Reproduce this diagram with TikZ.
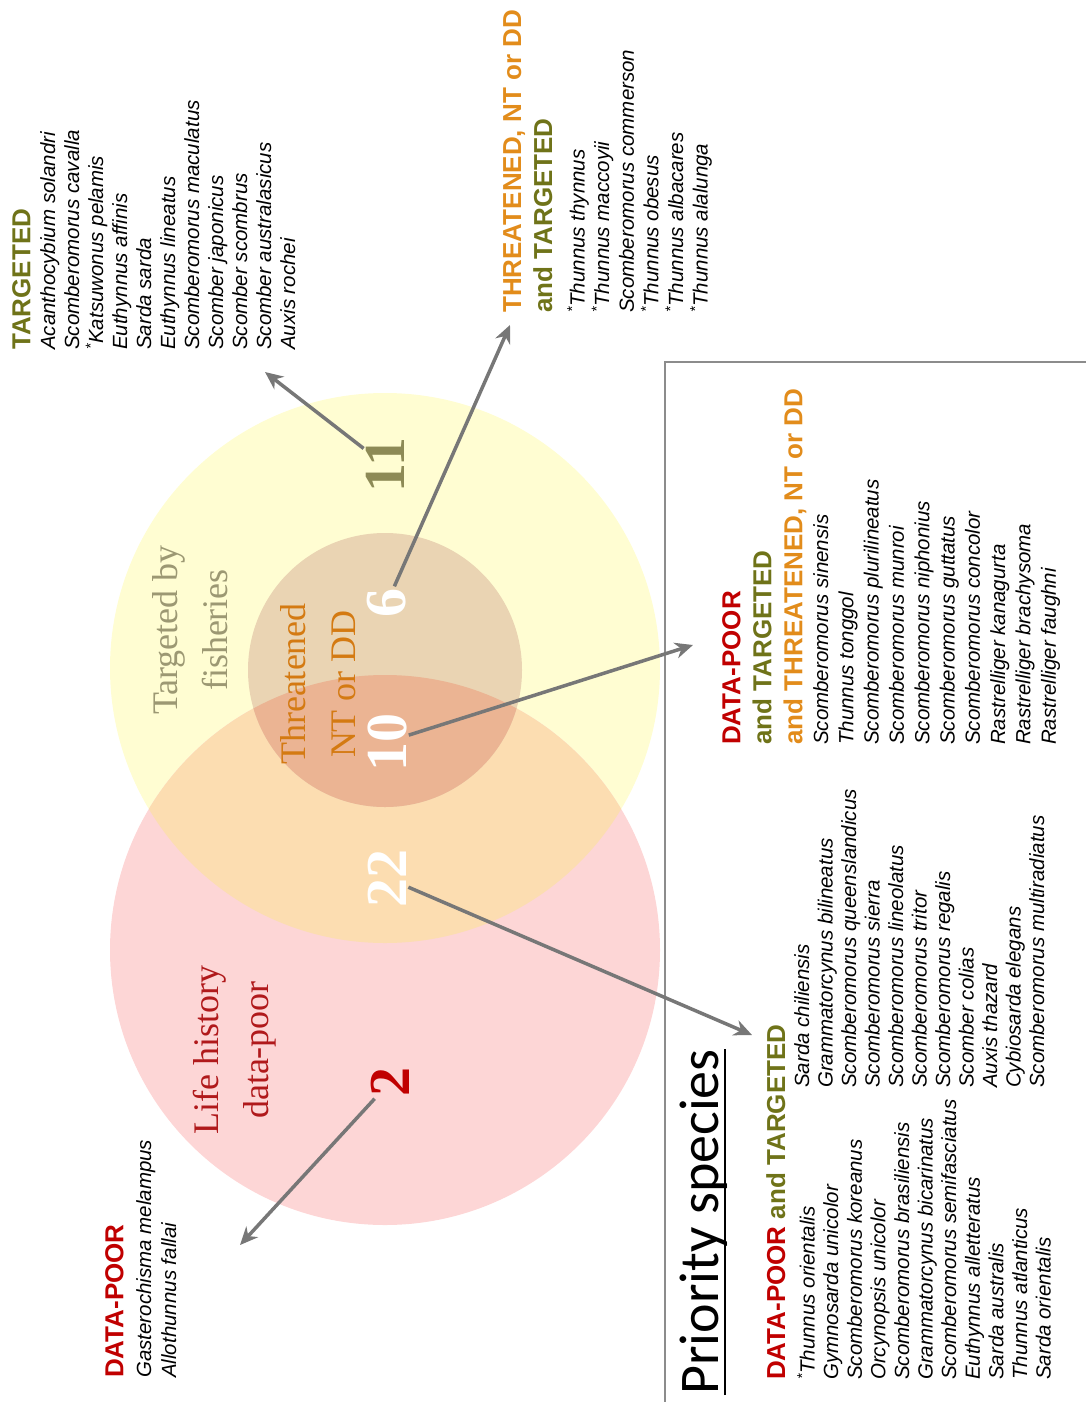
\documentclass[tikz,border=0pt]{standalone}
\usepackage{fontspec}
\setmainfont{Liberation Serif}
\setsansfont{Liberation Sans}
\newfontfamily\titlefont{Carlito}
\usetikzlibrary{arrows.meta}
\definecolor{targetedfillcolor}{HTML}{FFFDD2}
\definecolor{datapoorfillcolor}{HTML}{FDD6D6}
\definecolor{overlapfillcolor}{HTML}{FCDDB1}
\definecolor{threatenedfillcolor}{HTML}{EAD4B3}
\definecolor{threatenedoverlapcolor}{HTML}{EBB493}
\definecolor{datapoorcolor}{HTML}{C00000}
\definecolor{targetedcolor}{HTML}{6F7319}
\definecolor{threatenedcolor}{HTML}{E28C1B}
\definecolor{targetedlabelcolor}{HTML}{9C9873}
\definecolor{datapoorlabelcolor}{HTML}{B0191B}
\definecolor{threatenedlabelcolor}{HTML}{D47A12}
\definecolor{countolivecolor}{HTML}{8D8A56}
\definecolor{arrowcolor}{HTML}{777777}
\definecolor{framecolor}{HTML}{8C8C8C}
\def\bigradius{275}
\def\smallradius{137}
\def\arrowwidth{3.5pt}
\tikzset{
	% circle labels
	circle_label/.style={
		rotate=90,
		align=center,
		inner sep=0pt,
		font=\fontsize{36}{50}\selectfont,
	},
	% counts
	count/.style={
		rotate=90,
		inner sep=2pt,
		font=\fontsize{58}{58}\selectfont\bfseries,
	},
	% list headings
	list_head/.style={
		rotate=90,
		anchor=north west,
		align=left,
		inner sep=0pt,
		font=\sffamily\bfseries\fontsize{26}{31}\selectfont,
	},
	% species lists
	species_list/.style={
		rotate=90,
		anchor=north west,
		align=left,
		inner sep=0pt,
		font=\sffamily\itshape\fontsize{20.5}{#1}\selectfont,
	},
	species_list/.default=24,
	% title
	title/.style={
		rotate=90,
		anchor=north west,
		inner sep=0pt,
		font=\titlefont\fontsize{56}{60}\selectfont,
	},
	% connections
	connection/.style={
		draw=arrowcolor,
		line width=\arrowwidth,
		-{Stealth[length=18pt,width=16pt]},
	},
	frame/.style={
		draw=framecolor,
		line width=1.5pt,
	},
}

\begin{document}
\begin{tikzpicture}[x=1pt, y=-1pt]
	\useasboundingbox (0,0) rectangle (1086,1402);

	% Circles
	\coordinate (targeted centre) at (385,668);
	\coordinate (datapoor centre) at (385,950);
	\coordinate (threatened centre) at (385,670);
	\fill[targetedfillcolor] (targeted centre) circle[radius=\bigradius];
	\fill[datapoorfillcolor] (datapoor centre) circle[radius=\bigradius];
	\begin{scope}
		\clip (targeted centre) circle[radius=\bigradius];
		\fill[overlapfillcolor] (datapoor centre) circle[radius=\bigradius];
	\end{scope}
	\fill[threatenedfillcolor] (threatened centre) circle[radius=\smallradius];
	\begin{scope}
		\clip (threatened centre) circle[radius=\smallradius];
		\fill[threatenedoverlapcolor] (datapoor centre) circle[radius=\bigradius];
	\end{scope}

	% Circle labels
	\node[circle_label, text=targetedlabelcolor] (targeted label) at (190,630) {Targeted by\\fisheries};
	\node[circle_label, text=datapoorlabelcolor] (datapoor label) at (235,1050) {Life history\\data-poor};
	\node[circle_label, text=threatenedlabelcolor] (threatened label) at (318,684) {Threatened\\NT or DD};

	% Counts
	\node[count, text=countolivecolor] (count targeted) at (385,465) {11};
	\node[count, text=white] (count threatened) at (387,603) {6};
	\node[count, text=white] (count all) at (387,742) {10};
	\node[count, text=white] (count datapoor targeted) at (387,878) {22};
	\node[count, text=datapoorcolor] (count datapoor) at (390,1082) {2};

	% Targeted
	\node[list_head, text=targetedcolor] (targeted head) at (12,350) {TARGETED};
	\node[species_list] (targeted list) at (40,350) {Acanthocybium solandri\\Scomberomorus cavalla\\\textsuperscript{*}Katsuwonus pelamis\\Euthynnus affinis\\Sarda sarda\\Euthynnus lineatus\\Scomberomorus maculatus\\Scomber japonicus\\Scomber scombrus\\Scomber australasicus\\Auxis rochei};

	% Threatened and targeted
	\node[list_head] (threatened head) at (503,313) {{\color{threatenedcolor}THREATENED, NT or DD}\\{\color{targetedcolor}and TARGETED}};
	\node[species_list=24.6] (threatened list) at (567,313) {\textsuperscript{*}Thunnus thynnus\\\textsuperscript{*}Thunnus maccoyii\\Scomberomorus commerson\\\textsuperscript{*}Thunnus obesus\\\textsuperscript{*}Thunnus albacares\\\textsuperscript{*}Thunnus alalunga};

	% Data-poor, targeted and threatened
	\node[list_head] (all head) at (722,745) {{\color{datapoorcolor}DATA-POOR}\\{\color{targetedcolor}and TARGETED}\\{\color{threatenedcolor}and THREATENED, NT or DD}};
	\node[species_list=25.3] (all list) at (813,745) {Scomberomorus sinensis\\Thunnus tonggol\\Scomberomorus plurilineatus\\Scomberomorus munroi\\Scomberomorus niphonius\\Scomberomorus guttatus\\Scomberomorus concolor\\Rastrelliger kanagurta\\Rastrelliger brachysoma\\Rastrelliger faughni};

	% Priority species
	\node[title] (priority title) at (680,1395) {Priority species};
	\draw[line width=2pt] ([xshift=6pt]priority title.base west) -- ([xshift=6pt]priority title.base east);
	\node[list_head] (priority head) at (766,1380) {{\color{datapoorcolor}DATA-POOR} {\color{targetedcolor}and TARGETED}};
	\node[species_list=23.6] (priority list a) at (797,1380) {\textsuperscript{*}Thunnus orientalis\\Gymnosarda unicolor\\Scomberomorus koreanus\\Orcynopsis unicolor\\Scomberomorus brasiliensis\\Grammatorcynus bicarinatus\\Scomberomorus semifasciatus\\Euthynnus alletteratus\\Sarda australis\\Thunnus atlanticus\\Sarda orientalis};
	\node[species_list=23.5] (priority list b) at (794,1088) {Sarda chiliensis\\Grammatorcynus bilineatus\\Scomberomorus queenslandicus\\Scomberomorus sierra\\Scomberomorus lineolatus\\Scomberomorus tritor\\Scomberomorus regalis\\Scomber colias\\Auxis thazard\\Cybiosarda elegans\\Scomberomorus multiradiatus};

	% Data-poor
	\node[list_head, text=datapoorcolor] (datapoor head) at (105,1378) {DATA-POOR};
	\node[species_list=25] (datapoor list) at (136,1378) {Gasterochisma melampus\\Allothunnus fallai};

	% Frame
	\draw[frame] (1086,362) -- (665,362) -- (665,1402);

	% Connections
	\coordinate (targeted tip) at (265,372);
	\coordinate (threatened tip) at (510,325);
	\coordinate (all tip) at (693,645);
	\coordinate (priority tip) at (752,1035);
	\coordinate (datapoor tip) at (240,1245);
	\draw[connection] (count targeted) -- (targeted tip);
	\draw[connection] (count threatened) -- (threatened tip);
	\draw[connection] (count all) -- (all tip);
	\draw[connection] (count datapoor targeted) -- (priority tip);
	\draw[connection] (count datapoor) -- (datapoor tip);
\end{tikzpicture}
\end{document}
